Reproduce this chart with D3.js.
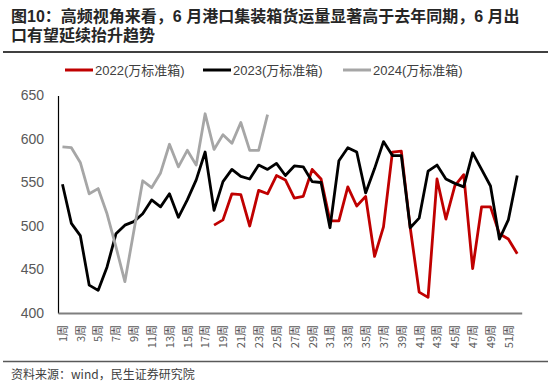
<!DOCTYPE html>
<html><head><meta charset="utf-8">
<script src="https://cdn.jsdelivr.net/npm/d3@7"></script>
<style>
html,body{margin:0;padding:0;background:#fff;}
svg{display:block;}
</style></head>
<body>
<svg id="chart" width="550" height="383"></svg>
<script>
// ---- data ----
const weeks = d3.range(1, 53).map(d => d + "周");
const seriesNames = ["2022(万标准箱)", "2023(万标准箱)", "2024(万标准箱)"];
const seriesColors = ["#C00000", "#000000", "#A6A6A6"];
const yTicks = [400, 450, 500, 550, 600, 650];
const y2022 = [null,null,null,null,null,null,null,null,null,null,null,null,null,null,null,null,null,
  501,507,537,536,500,541,537,558,553,532,534,565,554,506,506,545,523,534,465,499,585,586,498,424,418,554,508,546,559,451,522,522,491,485,468];
const y2023 = [548,503,489,432,426,453,491,501,505,514,530,522,537,510,530,553,585,518,551,565,557,554,570,565,572,558,
  569,568,551,550,498,575,590,585,538,566,597,581,581,498,509,563,570,554,549,545,584,565,546,485,507,558];
const y2024 = [591,590,573,537,543,514,476,436,494,552,544,561,594,568,587,570,629,588,605,595,619,587,587,628];
const titleLines = ["图10：高频视角来看，6 月港口集装箱货运量显著高于去年同期，6 月出", "口有望延续抬升趋势"];

const svg = d3.select("#chart");
const FONT = "'Liberation Sans','Noto Sans CJK SC',sans-serif";
const CJK = "'Noto Sans CJK SC',sans-serif";

// title (two lines)
titleLines.forEach((t, i) => {
  svg.append("text").attr("x", 11).attr("y", 22 + i * 19)
    .attr("font-family", FONT).attr("font-weight", "bold")
    .attr("font-size", 16).attr("fill", "#262626").text(t);
});
svg.append("line").attr("x1", 3).attr("x2", 548).attr("y1", 52).attr("y2", 52).attr("stroke", "#404040").attr("stroke-width", 2);

// scales
const x = d3.scalePoint().domain(weeks).range([58, 521.7]).padding(0.5);
const y = d3.scaleLinear().domain([400, 650]).range([313, 95.5]);

// y axis labels
const yAxis = d3.axisLeft(y).tickValues(yTicks).tickSize(0).tickPadding(14);
const gy = svg.append("g").attr("transform", "translate(58,0)").call(yAxis);
gy.select(".domain").attr("stroke", "#000").attr("stroke-width", 1.2);
gy.selectAll("text").attr("font-family", FONT).attr("font-size", 14).attr("fill", "#595959");

// x axis
const xAxis = d3.axisBottom(x).tickSize(0).tickFormat((d, i) => (i % 2 === 0 ? d : ""));
const gx = svg.append("g").attr("transform", "translate(0,313)").call(xAxis);
gx.select(".domain").attr("stroke", "#7F7F7F").attr("stroke-width", 2);
gx.selectAll("text").attr("font-family", CJK).attr("font-size", 11).attr("fill", "#595959")
  .attr("transform", "rotate(-90)").attr("text-anchor", "end")
  .attr("x", -12).attr("y", 0).attr("dy", "0.35em");

// lines
const allSeries = [y2022, y2023, y2024];
const line = d3.line().defined(d => d.v != null).x(d => x(d.w)).y(d => y(d.v));
allSeries.forEach((arr, si) => {
  const pts = arr.map((v, i) => ({ w: weeks[i], v: v }));
  svg.append("path").datum(pts).attr("d", line).attr("fill", "none")
    .attr("stroke", seriesColors[si]).attr("stroke-width", 2.8)
    .attr("stroke-linejoin", "round").attr("stroke-linecap", "butt");
});

// legend
const legX = [65, 203, 343];
seriesNames.forEach((n, i) => {
  svg.append("line").attr("x1", legX[i]).attr("x2", legX[i] + 28).attr("y1", 70).attr("y2", 70)
    .attr("stroke", seriesColors[i]).attr("stroke-width", 3);
  svg.append("text").attr("x", legX[i] + 30).attr("y", 70).attr("dy", "0.35em")
    .attr("font-family", FONT).attr("font-size", 13).attr("fill", "#404040").text(n);
});

// bottom rule and source
svg.append("line").attr("x1", 3).attr("x2", 548).attr("y1", 361.5).attr("y2", 361.5).attr("stroke", "#595959").attr("stroke-width", 1.5);
svg.append("text").attr("x", 11).attr("y", 379).attr("font-family", CJK).attr("font-size", 12)
  .attr("fill", "#404040").text("资料来源：wind，民生证券研究院");
</script>
</body></html>
